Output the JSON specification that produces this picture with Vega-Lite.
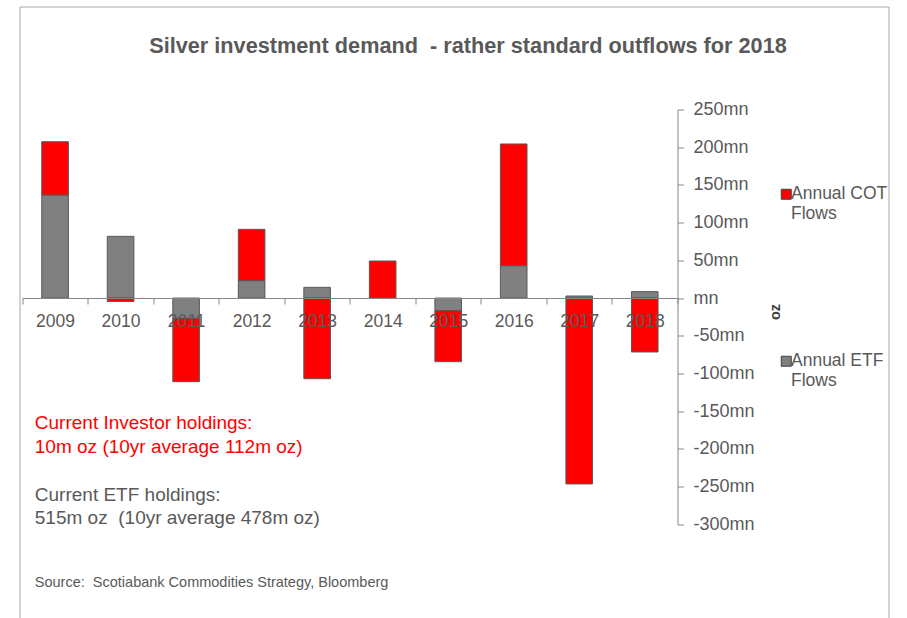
{
  "$schema": "https://vega.github.io/schema/vega-lite/v6.json",
  "width": 869,
  "height": 611.5,
  "autosize": {"type": "none"},
  "padding": {"left": 19.5, "top": 6.5, "right": 18.5, "bottom": 0},
  "background": "white",
  "config": {
    "font": "Liberation Sans",
    "view": {"stroke": "#a6a6a6", "strokeWidth": 1}
  },
  "title": {
    "text": "Silver investment demand \u00a0- rather standard outflows for 2018",
    "font": "Liberation Sans",
    "fontSize": 21.7,
    "fontWeight": "bold",
    "color": "#595959",
    "anchor": "middle",
    "baseline": "middle",
    "offset": -61,
    "dx": 14
  },
  "datasets": {
    "flows": [
      {"year": "2009", "series": "Annual ETF Flows", "value": 136.6},
      {"year": "2009", "series": "Annual COT Flows", "value": 70.7},
      {"year": "2010", "series": "Annual ETF Flows", "value": 81.8},
      {"year": "2010", "series": "Annual COT Flows", "value": -4.5},
      {"year": "2011", "series": "Annual ETF Flows", "value": -26.9},
      {"year": "2011", "series": "Annual COT Flows", "value": -84.0},
      {"year": "2012", "series": "Annual ETF Flows", "value": 23.0},
      {"year": "2012", "series": "Annual COT Flows", "value": 68.1},
      {"year": "2013", "series": "Annual ETF Flows", "value": 14.2},
      {"year": "2013", "series": "Annual COT Flows", "value": -107.0},
      {"year": "2014", "series": "Annual ETF Flows", "value": 0},
      {"year": "2014", "series": "Annual COT Flows", "value": 49.1},
      {"year": "2015", "series": "Annual ETF Flows", "value": -16.7},
      {"year": "2015", "series": "Annual COT Flows", "value": -67.7},
      {"year": "2016", "series": "Annual ETF Flows", "value": 42.9},
      {"year": "2016", "series": "Annual COT Flows", "value": 161.4},
      {"year": "2017", "series": "Annual ETF Flows", "value": 2.7},
      {"year": "2017", "series": "Annual COT Flows", "value": -246.5},
      {"year": "2018", "series": "Annual ETF Flows", "value": 8.5},
      {"year": "2018", "series": "Annual COT Flows", "value": -71.5}
    ],
    "notes": [
      {"grp": "investor", "line": "Current Investor holdings:", "pos": -166.1},
      {"grp": "investor", "line": "10m oz (10yr average 112m oz)", "pos": -197.1},
      {"grp": "etf", "line": "Current ETF holdings:", "pos": -261.1},
      {"grp": "etf", "line": "515m oz \u00a0(10yr average 478m oz)", "pos": -292.1},
      {"grp": "source", "line": "Source: \u00a0Scotiabank Commodities Strategy, Bloomberg", "pos": -377.4}
    ]
  },
  "layer": [
    {
      "data": {"name": "flows"},
      "mark": {"type": "bar", "stroke": "#595959", "strokeWidth": 1, "width": {"band": 0.406}},
      "encoding": {
        "x": {
          "field": "year",
          "type": "ordinal",
          "title": null,
          "scale": {"range": [2.8, 658], "paddingInner": 0, "paddingOuter": 0},
          "axis": {
            "orient": "bottom",
            "offset": -320,
            "tickBand": "extent",
            "labelAngle": 0,
            "domainColor": "#868686",
            "tickColor": "#868686",
            "tickSize": 6,
            "labelFontSize": 17.5,
            "labelColor": "#595959",
            "labelPadding": 8,
            "zindex": 1
          }
        },
        "y": {
          "field": "value",
          "type": "quantitative",
          "stack": "zero",
          "title": "oz",
          "scale": {"domain": [-300, 250], "range": [517.8, 103], "nice": false, "zero": false},
          "axis": {
            "orient": "right",
            "offset": -211,
            "values": [-300, -250, -200, -150, -100, -50, 0, 50, 100, 150, 200, 250],
            "labelExpr": "datum.value == 0 ? 'mn' : datum.value + 'mn'",
            "grid": false,
            "domainColor": "#868686",
            "tickColor": "#868686",
            "tickSize": 6,
            "labelFontSize": 18,
            "labelColor": "#595959",
            "labelPadding": 9.5,
            "titleFontSize": 14.5,
            "titleFontWeight": "bold",
            "titleColor": "#404040",
            "titleAngle": 270,
            "titleX": 98,
            "titleY": 305,
            "titleAlign": "center",
            "titleBaseline": "middle"
          }
        },
        "color": {
          "field": "series",
          "type": "nominal",
          "scale": {"domain": ["Annual COT Flows", "Annual ETF Flows"], "range": ["#ff0000", "#808080"]},
          "legend": {
            "orient": "none",
            "legendX": 758,
            "legendY": 179,
            "title": null,
            "direction": "vertical",
            "symbolType": "square",
            "symbolSize": 100,
            "symbolStrokeWidth": 1,
            "symbolStrokeColor": "#404040",
            "labelFontSize": 17.5,
            "labelColor": "#595959",
            "labelOffset": -4,
            "labelLimit": 0,
            "labelBaseline": "middle",
            "labelExpr": "datum.label == 'Annual COT Flows' ? ['Annual COT', 'Flows'] : ['Annual ETF', 'Flows']",
            "rowPadding": 129
          }
        },
        "order": {"field": "series", "sort": "descending"}
      }
    },
    {
      "data": {"name": "notes"},
      "transform": [{"filter": "datum.grp == 'investor'"}],
      "mark": {"type": "text", "align": "left", "baseline": "middle", "dx": 12.5, "fontSize": 19, "color": "#ff0000"},
      "encoding": {
        "x": {"datum": "2009", "type": "ordinal", "bandPosition": 0, "title": null},
        "y": {"field": "pos", "type": "quantitative", "title": "oz"},
        "text": {"field": "line"}
      }
    },
    {
      "data": {"name": "notes"},
      "transform": [{"filter": "datum.grp == 'etf'"}],
      "mark": {"type": "text", "align": "left", "baseline": "middle", "dx": 12.5, "fontSize": 19, "color": "#595959"},
      "encoding": {
        "x": {"datum": "2009", "type": "ordinal", "bandPosition": 0, "title": null},
        "y": {"field": "pos", "type": "quantitative", "title": "oz"},
        "text": {"field": "line"}
      }
    },
    {
      "data": {"name": "notes"},
      "transform": [{"filter": "datum.grp == 'source'"}],
      "mark": {"type": "text", "align": "left", "baseline": "middle", "dx": 12.5, "fontSize": 14.5, "color": "#595959"},
      "encoding": {
        "x": {"datum": "2009", "type": "ordinal", "bandPosition": 0, "title": null},
        "y": {"field": "pos", "type": "quantitative", "title": "oz"},
        "text": {"field": "line"}
      }
    }
  ]
}
